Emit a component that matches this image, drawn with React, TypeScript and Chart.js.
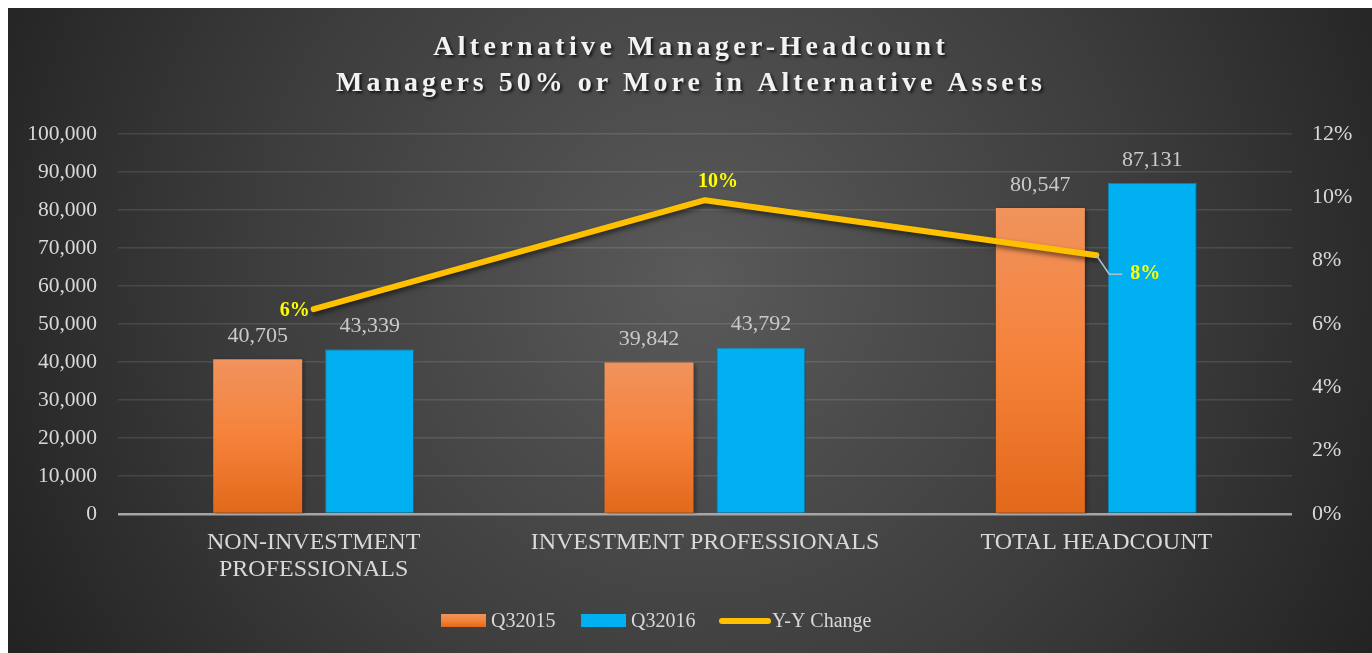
import React, { useEffect, useRef } from "react";
import { Chart, registerables } from "chart.js";

Chart.register(...registerables);

const categories: string[][] = [["NON-INVESTMENT", "PROFESSIONALS"], ["INVESTMENT PROFESSIONALS"], ["TOTAL HEADCOUNT"]];
const q2015: number[] = [40705, 39842, 80547];
const q2016: number[] = [43339, 43792, 87131];
const yoyChange: number[] = [6.47, 9.91, 8.17];
const seriesNames: string[] = ["Q32015", "Q32016", "Y-Y Change"];
const titleLines: string[] = ["Alternative Manager-Headcount", "Managers 50% or More in Alternative Assets"];

const W = 1364;
const H = 645;
const SERIF = "'Liberation Serif', 'DejaVu Serif', serif";
const TEXT = "#d9d9d9";
const ORANGE_TOP = "#f0935d";
const ORANGE_MID = "#f5823a";
const ORANGE_BOT = "#e2681a";
const BLUE = "#00b0f0";
const GOLD = "#ffc000";
const LABEL_YELLOW = "#ffff00";

function orangeGradient(ctx: CanvasRenderingContext2D, top: number, bottom: number) {
  const g = ctx.createLinearGradient(0, top, 0, bottom);
  g.addColorStop(0, ORANGE_TOP);
  g.addColorStop(0.5, ORANGE_MID);
  g.addColorStop(1, ORANGE_BOT);
  return g;
}

const backgroundPlugin = {
  id: "bgTitle",
  beforeDraw(chart: any) {
    const { ctx, width, height } = chart;
    ctx.save();
    const g = ctx.createRadialGradient(690, 270, 0, 690, 270, 820);
    g.addColorStop(0, "#5a5a5a");
    g.addColorStop(0.55, "#3c3c3c");
    g.addColorStop(1, "#1f1f1f");
    ctx.fillStyle = g;
    ctx.fillRect(0, 0, width, height);

    // title
    ctx.font = `bold 28px ${SERIF}`;
    ctx.textAlign = "center";
    ctx.textBaseline = "middle";
    const targets = [516, 710];
    const ys = [40, 76];
    titleLines.forEach((line, i) => {
      (ctx as any).letterSpacing = "0px";
      const base = ctx.measureText(line).width;
      const ls = Math.max(0, (targets[i] - base) / line.length);
      (ctx as any).letterSpacing = `${ls}px`;
      ctx.shadowColor = "rgba(0,0,0,0.75)";
      ctx.shadowBlur = 3;
      ctx.shadowOffsetX = 2;
      ctx.shadowOffsetY = 2;
      ctx.fillStyle = "#f2f2f2";
      ctx.fillText(line, 681 + ls / 2, ys[i]);
    });
    (ctx as any).letterSpacing = "0px";
    ctx.restore();
  },
  beforeDatasetDraw(chart: any, args: any) {
    const ctx = chart.ctx;
    ctx.save();
    if (args.index === 2) {
      ctx.shadowColor = "rgba(0,0,0,0.55)";
      ctx.shadowBlur = 5;
      ctx.shadowOffsetX = 1;
      ctx.shadowOffsetY = 3;
    } else {
      ctx.shadowColor = "rgba(0,0,0,0.35)";
      ctx.shadowBlur = 4;
      ctx.shadowOffsetX = 2;
      ctx.shadowOffsetY = 1;
    }
  },
  afterDatasetDraw(chart: any) {
    chart.ctx.restore();
  },
};

const labelsPlugin = {
  id: "valueLabels",
  afterDatasetsDraw(chart: any) {
    const { ctx } = chart;
    ctx.save();
    // bar value labels
    ctx.font = `22px ${SERIF}`;
    ctx.fillStyle = "#c9c9c9";
    ctx.textAlign = "center";
    ctx.textBaseline = "middle";
    [0, 1].forEach((di) => {
      const meta = chart.getDatasetMeta(di);
      const data = chart.data.datasets[di].data as number[];
      meta.data.forEach((el: any, i: number) => {
        ctx.fillText(data[i].toLocaleString("en-US"), el.x, el.y - 23);
      });
    });

    // line labels
    const lineMeta = chart.getDatasetMeta(2);
    ctx.font = `bold 20px ${SERIF}`;
    ctx.fillStyle = LABEL_YELLOW;
    lineMeta.data.forEach((pt: any, i: number) => {
      const txt = Math.round(yoyChange[i]) + "%";
      if (i === 0) {
        ctx.textAlign = "right";
        ctx.fillText(txt, pt.x - 4, pt.y + 2);
      } else if (i === 1) {
        ctx.textAlign = "center";
        ctx.fillText(txt, pt.x + 13, pt.y - 18);
      } else {
        ctx.strokeStyle = "#a9c4d0";
        ctx.lineWidth = 1.5;
        ctx.beginPath();
        ctx.moveTo(pt.x, pt.y);
        ctx.lineTo(pt.x + 13, pt.y + 19);
        ctx.lineTo(pt.x + 26, pt.y + 19);
        ctx.stroke();
        ctx.textAlign = "left";
        ctx.fillText(txt, pt.x + 34, pt.y + 19);
      }
    });

    // legend
    const ly = 613;
    ctx.font = `20px ${SERIF}`;
    ctx.textAlign = "left";
    ctx.textBaseline = "middle";
    ctx.fillStyle = orangeGradient(ctx, ly - 7, ly + 6);
    ctx.fillRect(433, ly - 7, 45, 13);
    ctx.fillStyle = TEXT;
    ctx.fillText(seriesNames[0], 483, ly + 1);
    ctx.fillStyle = BLUE;
    ctx.fillRect(573, ly - 7, 45, 13);
    ctx.fillStyle = TEXT;
    ctx.fillText(seriesNames[1], 623, ly + 1);
    ctx.strokeStyle = GOLD;
    ctx.lineWidth = 6;
    ctx.lineCap = "round";
    ctx.beginPath();
    ctx.moveTo(714, ly);
    ctx.lineTo(760, ly);
    ctx.stroke();
    ctx.fillStyle = TEXT;
    ctx.fillText(seriesNames[2], 764, ly + 1);
    ctx.restore();
  },
};

export default function App() {
  const canvasRef = useRef<HTMLCanvasElement | null>(null);

  useEffect(() => {
    if (!canvasRef.current) return;
    const chart = new Chart(canvasRef.current, {
      type: "bar",
      data: {
        labels: categories as any,
        datasets: [
          {
            type: "bar",
            label: seriesNames[0],
            data: q2015,
            order: 1,
            yAxisID: "y",
            backgroundColor: (c: any) => {
              const ch = c.chart;
              if (!ch.chartArea || c.raw === undefined) return ORANGE_MID;
              const top = ch.scales.y.getPixelForValue(c.raw);
              const bottom = ch.scales.y.getPixelForValue(0);
              return orangeGradient(ch.ctx, top, bottom);
            },
            borderWidth: 0,
            categoryPercentage: 0.572,
            barPercentage: 0.795,
          },
          {
            type: "bar",
            label: seriesNames[1],
            data: q2016,
            order: 1,
            yAxisID: "y",
            backgroundColor: BLUE,
            borderColor: "#0a8cc0",
            borderWidth: 1,
            categoryPercentage: 0.572,
            barPercentage: 0.795,
          },
          {
            type: "line",
            label: seriesNames[2],
            data: yoyChange,
            order: 0,
            yAxisID: "y1",
            borderColor: GOLD,
            borderWidth: 6,
            borderCapStyle: "round",
            borderJoinStyle: "round",
            pointRadius: 0,
            tension: 0,
            fill: false,
          } as any,
        ],
      },
      options: {
        animation: false,
        responsive: false,
        maintainAspectRatio: false,
        layout: { padding: { top: 126, left: 0, right: 0, bottom: 0 } },
        plugins: {
          legend: { display: false },
          title: { display: false },
          tooltip: { enabled: false },
        },
        scales: {
          x: {
            grid: { display: false, drawTicks: false },
            border: { display: false },
            ticks: {
              color: TEXT,
              font: { family: SERIF, size: 24, lineHeight: 1.13 },
              padding: 15,
              maxRotation: 0,
              autoSkip: false,
            },
            afterFit(s: any) {
              s.height = 139;
            },
          },
          y: {
            position: "left",
            min: 0,
            max: 100000,
            ticks: {
              stepSize: 10000,
              color: TEXT,
              font: { family: SERIF, size: 21.5 },
              padding: 21,
              callback: (v: any) => Number(v).toLocaleString("en-US"),
            },
            grid: {
              drawTicks: false,
              color: (c: any) => (c.tick && c.tick.value === 0 ? "#a6a6a6" : "rgba(255,255,255,0.11)"),
              lineWidth: (c: any) => (c.tick && c.tick.value === 0 ? 2.5 : 1.5),
            },
            border: { display: false },
            afterFit(s: any) {
              s.width = 110;
            },
          },
          y1: {
            position: "right",
            min: 0,
            max: 12,
            ticks: {
              stepSize: 2,
              color: TEXT,
              font: { family: SERIF, size: 22 },
              padding: 20,
              callback: (v: any) => v + "%",
            },
            grid: { display: false, drawTicks: false },
            border: { display: false },
            afterFit(s: any) {
              s.width = 80;
            },
          },
        },
      } as any,
      plugins: [backgroundPlugin, labelsPlugin],
    });
    return () => chart.destroy();
  }, []);

  return (
    <div style={{ position: "fixed", left: 8, top: 8, width: W, height: H }}>
      <canvas ref={canvasRef} width={W} height={H} style={{ display: "block", width: W, height: H }} />
    </div>
  );
}
